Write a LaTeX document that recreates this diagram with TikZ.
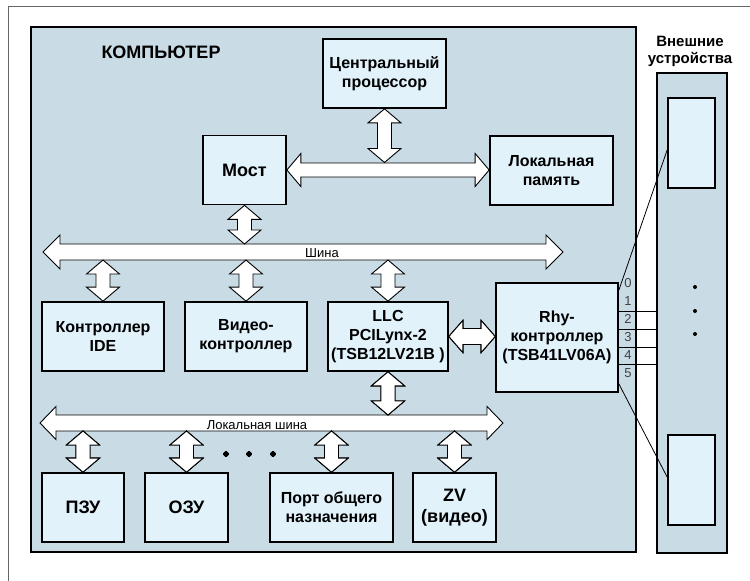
\documentclass[tikz,border=0pt]{standalone}
\usepackage{fontspec}
\setmainfont{Liberation Sans}
\usetikzlibrary{calc}
\definecolor{compfill}{RGB}{201,220,230}
\definecolor{boxfill}{RGB}{225,242,251}
\tikzset{
  blk/.style={draw=black, line width=1.7pt, fill=boxfill, align=center, inner sep=0pt,
    font=\bfseries\fontsize{16}{19}\selectfont},
  bigtxt/.style={font=\bfseries\fontsize{18}{21}\selectfont},
  fatline/.style={draw=black, fill=white, line width=0.9pt, line join=miter},
  buslbl/.style={font=\fontsize{13}{15}\selectfont, inner sep=0pt},
  portlbl/.style={font=\fontsize{13}{15}\selectfont, text=black!75, inner sep=0pt},
}
% fat double arrow: start, end, shaft half width, head half width, head length
\newcommand{\fatarrow}[5]{%
  \draw[fatline] let \p1=#1, \p2=#2,
      \n1={atan2(\y2-\y1,\x2-\x1)}, \n2={veclen(\x2-\x1,\y2-\y1)} in
    [shift={(\p1)}, rotate=\n1]
    (0pt,0pt) -- (#5,#4) -- (#5,#3) -- ({\n2*1pt-#5},#3) -- ({\n2*1pt-#5},#4)
    -- ({\n2*1pt},0pt) -- ({\n2*1pt-#5},-#4) -- ({\n2*1pt-#5},-#3) -- (#5,-#3)
    -- (#5,-#4) -- cycle;
}

\begin{document}
\begin{tikzpicture}[x=1pt, y=-1pt]
  \useasboundingbox (0,0) rectangle (750,581);
  \def\sw{7pt}
  \def\hw{16.5pt}
  \def\hl{14pt}

  % frame
  \draw[black!60, line width=1pt] (8,581) -- (8,6) -- (750,6);

  % computer and external devices
  \filldraw[fill=compfill, draw=black, line width=2.2pt] (31,27) rectangle (636,552);
  \filldraw[fill=compfill, draw=black, line width=2.2pt] (657,73) rectangle (727,553);
  \coordinate (extW) at (657,0);
  \node[bigtxt] (comptitle) at (161,52) {КОМПЬЮТЕР};
  \node[font=\bfseries\fontsize{15}{17}\selectfont, align=center] (exttitle) at (690,51)
    {Внешние\\устройства};

  % blocks
  \node[blk, minimum width=123pt, minimum height=69pt] (cpu) at (384.5,73.5) {Центральный\\процессор};
  \node[blk, bigtxt, minimum width=83pt, minimum height=69pt] (bridge) at (244.5,170) {Мост};
  \node[blk, minimum width=123pt, minimum height=69pt] (lmem) at (551.5,170.5) {Локальная\\память};
  \node[blk, minimum width=122pt, minimum height=69pt] (ide) at (103,336.5) {Контроллер\\IDE};
  \node[blk, minimum width=122pt, minimum height=69pt] (video) at (246,336.5) {Видео-\\контроллер};
  \node[blk, minimum width=120pt, minimum height=69pt] (llc) at (388,336.5) {LLC\\PCILynx-2\\(TSB12LV21B )};
  \node[blk, minimum width=122pt, minimum height=109pt] (phy) at (557,337.5) {Rhy-\\контроллер\\(TSB41LV06A)};
  \node[blk, bigtxt, minimum width=82pt, minimum height=69pt] (rom) at (83,507.5) {ПЗУ};
  \node[blk, bigtxt, minimum width=83pt, minimum height=69pt] (ram) at (186.5,507.5) {ОЗУ};
  \node[blk, minimum width=123pt, minimum height=69pt] (port) at (331.5,507.5) {Порт общего\\назначения};
  \node[blk, bigtxt, minimum width=83pt, minimum height=69pt] (zv) at (454.5,507.5) {ZV\\(видео)};
  \node[blk, minimum width=47pt, minimum height=90pt] (dev1) at (691.5,143) {};
  \node[blk, minimum width=47pt, minimum height=90pt] (dev2) at (691.5,480) {};

  % ports
  \foreach \i in {0,...,5}
    \node[portlbl] (p\i) at (628,283+18*\i) {\i};
  \foreach \y in {311,329,347,364} {
    \coordinate (ly) at (0,\y);
    \draw[line width=1pt] (phy.east |- ly) -- (extW |- ly);
  }
  \coordinate (c0) at ($(phy.north east)+(0,8)$);
  \coordinate (c5) at ($(phy.south east)+(0,-9)$);
  \coordinate (d1) at (0,150);
  \coordinate (d2) at (0,477);
  \draw[line width=0.8pt] (c0) -- (dev1.west |- d1);
  \draw[line width=0.8pt] (c5) -- (dev2.west |- d2);
  \foreach \y in {287,311,334}
    \fill (695,\y) circle (2pt);

  % buses
  \coordinate (busL) at (43,252);
  \coordinate (busR) at (563,252);
  \coordinate (busN) at (0,244);
  \coordinate (busS) at (0,260);
  \coordinate (lbusL) at (40,423);
  \coordinate (lbusR) at (503,423);
  \coordinate (lbusN) at (0,415);
  \coordinate (lbusS) at (0,431);
  \coordinate (hbarN) at (0,162.5);
  \fatarrow{(busL)}{(busR)}{8pt}{17pt}{17pt}
  \fatarrow{(lbusL)}{(lbusR)}{8pt}{16.5pt}{16pt}
  \node[buslbl] (buslbl) at (322,253) {Шина};
  \node[buslbl] (lbuslbl) at (257,425) {Локальная шина};

  % links
  \fatarrow{(bridge.east)}{(lmem.west |- bridge.east)}{\sw}{\hw}{\hl}
  \fatarrow{(cpu.south)}{(cpu.south |- hbarN)}{\sw}{\hw}{\hl}
  \fatarrow{(bridge.south)}{(bridge.south |- busN)}{\sw}{\hw}{\hl}
  \foreach \b in {ide,video,llc}
    \fatarrow{(\b.north |- busS)}{(\b.north)}{\sw}{\hw}{\hl}
  \fatarrow{(llc.east)}{(phy.west |- llc.east)}{8pt}{16pt}{\hl}
  \fatarrow{(llc.south)}{(llc.south |- lbusN)}{\sw}{\hw}{\hl}
  \foreach \b in {rom,ram,port,zv}
    \fatarrow{(\b.north |- lbusS)}{(\b.north)}{\sw}{\hw}{\hl}
  \foreach \x in {226,249,273}
    \fill (\x,454) circle (2.5pt);
\end{tikzpicture}
\end{document}
